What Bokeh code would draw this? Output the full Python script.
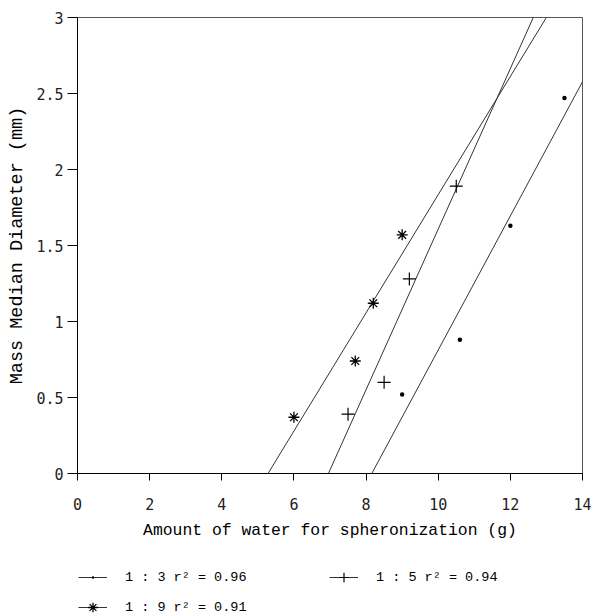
import numpy as np
from bokeh.plotting import figure
from bokeh.layouts import column
from bokeh.models import Range1d, FixedTicker, CustomJSTickFormatter, Legend, LegendItem
from bokeh.embed import file_html
from bokeh.resources import INLINE

# Data
x_13 = [9.0, 10.6, 12.0, 13.5]
y_13 = [0.52, 0.88, 1.63, 2.47]
x_15 = [7.5, 8.5, 9.2, 10.5]
y_15 = [0.39, 0.60, 1.28, 1.89]
x_19 = [6.0, 7.7, 8.2, 9.0]
y_19 = [0.37, 0.74, 1.12, 1.57]
labels = ["1 : 3 r² = 0.96", "1 : 5 r² = 0.94", "1 : 9 r² = 0.91"]
x_ticks = [0, 2, 4, 6, 8, 10, 12, 14]
y_ticks = [0, 0.5, 1, 1.5, 2, 2.5, 3]
x_title = "Amount of water for spheronization (g)"
y_title = "Mass Median Diameter (mm)"

X_MAX = 14
Y_MAX = 3

p = figure(width=593, height=550, x_range=Range1d(0, X_MAX), y_range=Range1d(0, Y_MAX),
           output_backend="svg", toolbar_location=None,
           min_border_left=77, min_border_right=11, min_border_top=17, min_border_bottom=77)

p.xgrid.visible = False
p.ygrid.visible = False
p.outline_line_color = "#555555"
p.outline_line_width = 1
p.background_fill_color = "white"
p.border_fill_color = "white"


def fit_line(xs, ys):
    m, b = np.polyfit(xs, ys, 1)
    x0 = -b / m
    return [x0, X_MAX], [0.0, m * X_MAX + b]


line_color = "#333333"
for xs, ys in ((x_13, y_13), (x_15, y_15), (x_19, y_19)):
    fx, fy = fit_line(xs, ys)
    p.line(fx, fy, line_color=line_color, line_width=1)

dot_style = dict(marker="dot", size=18, fill_color="black", line_color="black", line_width=1)
plus_style = dict(marker="cross", size=13, line_color="black", line_width=1.2)
star_style = dict(marker="asterisk", size=11, line_color="black", line_width=1.3)

p.scatter(x_13, y_13, **dot_style)
p.scatter(x_15, y_15, **plus_style)
p.scatter(x_19, y_19, **star_style)

tick_font = "DejaVu Sans Mono"
for ax in (p.xaxis[0], p.yaxis[0]):
    ax.axis_line_color = "black"
    ax.major_tick_line_color = "black"
    ax.minor_tick_line_color = None
    ax.major_tick_in = 0
    ax.major_label_text_font = tick_font
    ax.major_label_text_font_size = "15px"
    ax.major_label_text_color = "#222222"
    ax.axis_label_text_font = "Liberation Mono"
    ax.axis_label_text_font_style = "normal"
    ax.axis_label_text_color = "black"

p.xaxis.ticker = FixedTicker(ticks=x_ticks)
p.yaxis.ticker = FixedTicker(ticks=y_ticks)
p.yaxis.formatter = CustomJSTickFormatter(code="return String(Math.round(tick*10)/10)")
p.xaxis.formatter = CustomJSTickFormatter(code="return String(Math.round(tick))")

p.xaxis.major_tick_out = 7
p.xaxis.major_label_standoff = 17
p.xaxis.axis_label = x_title
p.xaxis.axis_label_text_font_size = "16.4px"
p.xaxis.axis_label_standoff = 8

p.yaxis.major_tick_out = 10
p.yaxis.major_label_standoff = 4
p.yaxis.axis_label = y_title
p.yaxis.axis_label_text_font_size = "18.5px"
p.yaxis.axis_label_standoff = 5

# Legend panel below the chart (its frame lines up with the chart's frame)
q = figure(width=593, height=65, output_backend="svg", toolbar_location=None,
           x_range=Range1d(100, 101), y_range=Range1d(100, 101),
           x_axis_location=None, y_axis_location=None,
           min_border=0, min_border_left=0, min_border_right=0,
           min_border_top=0, min_border_bottom=0)
q.xgrid.visible = False
q.ygrid.visible = False
q.outline_line_color = None


def legend_renderers(xs, ys, style):
    ln = q.line(xs, ys, line_color=line_color, line_width=1)
    sc = q.scatter(xs, ys, **style)
    return [ln, sc]


legend_dot_style = dict(dot_style, line_width=3)

legend = Legend(
    items=[
        LegendItem(label=labels[0], renderers=legend_renderers(x_13, y_13, legend_dot_style)),
        LegendItem(label=labels[1], renderers=legend_renderers(x_15, y_15, plus_style)),
        LegendItem(label=labels[2], renderers=legend_renderers(x_19, y_19, star_style)),
    ],
    orientation="horizontal", ncols=2,
    location=(1, -4), margin=0, padding=0, spacing=6,
    glyph_width=29, glyph_height=24, label_height=24,
    label_standoff=18, label_width=198,
    label_text_font="Liberation Mono", label_text_font_size="13.5px",
    label_text_color="black",
    border_line_color=None, background_fill_alpha=0,
)
q.add_layout(legend, "center")

layout = column(p, q, spacing=0)
open("out.html", "w").write(file_html(layout, INLINE))
